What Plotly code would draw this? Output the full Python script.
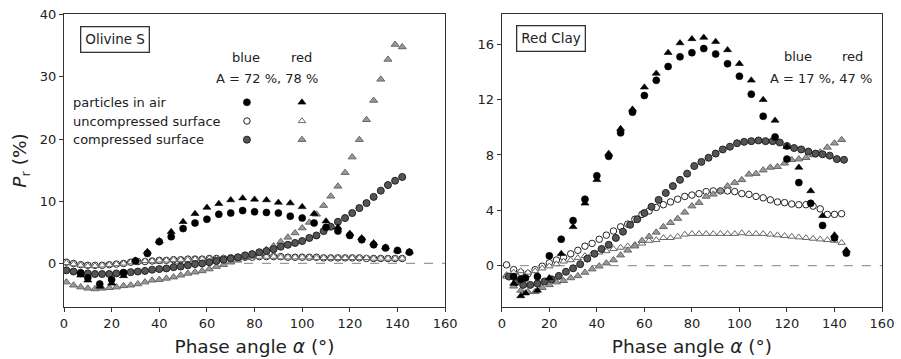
import plotly.graph_objects as go

# ---------------- data: left panel (Olivine S) ----------------
L_air_x = [7, 10, 15, 20, 25, 30, 35, 40, 45, 50, 55, 60, 65, 70, 75, 80, 85, 90, 95, 100,
           105, 110, 115, 120, 125, 130, 135, 140, 145]
L_air_blue = [-1.6, -2.3, -3.3, -2.6, -1.5, 0.4, 1.6, 3.5, 4.3, 5.6, 6.5, 7.1, 7.9, 8.1, 8.5, 8.3,
              8.2, 8.1, 7.6, 7.3, 6.5, 5.8, 5.2, 4.5, 3.8, 3.0, 2.5, 2.1, 1.8]
L_air_red = [-1.9, -2.7, -3.7, -3.2, -2.0, 0.5, 1.9, 3.6, 5.1, 6.7, 8.0, 9.0, 9.6, 10.2, 10.5, 10.3,
             10.2, 9.8, 9.7, 9.1, 8.0, 6.8, 5.8, 4.8, 4.1, 3.3, 2.6, 2.1, 1.9]

L_surf_x = [1, 4, 7, 10, 13, 16, 19, 22, 25, 28, 31, 34, 37, 40, 43, 46, 49, 52, 55, 58, 61, 64,
            67, 70, 73, 76, 79, 82, 85, 88, 91, 94, 97, 100, 103, 106, 109, 112, 115, 118, 121,
            124, 127, 130, 133, 136, 139, 142]
L_unc_blue = [0.2, 0.0, -0.2, -0.3, -0.3, -0.3, -0.2, -0.1, 0.0, 0.2, 0.3, 0.3, 0.4, 0.5, 0.5, 0.6,
              0.6, 0.7, 0.7, 0.7, 0.8, 0.8, 0.8, 0.9, 0.9, 1.0, 1.0, 1.1, 1.1, 1.1, 1.1, 1.0, 1.0,
              1.0, 1.0, 1.0, 0.9, 0.9, 0.9, 0.9, 0.9, 0.9, 0.8, 0.8, 0.8, 0.8, 0.8, 0.8]
L_unc_red = [0.1, -0.1, -0.3, -0.4, -0.4, -0.3, -0.2, -0.1, 0.0, 0.2, 0.3, 0.4, 0.4, 0.5, 0.5, 0.6,
             0.6, 0.6, 0.7, 0.7, 0.8, 0.8, 0.9, 0.9, 1.0, 1.0, 1.1, 1.1, 1.1, 1.1, 1.0, 1.0, 1.0,
             1.0, 1.0, 0.9, 0.9, 0.9, 0.9, 0.9, 0.9, 0.9, 0.9, 0.8, 0.8, 0.8, 0.8, 0.8]
L_cmp_blue = [-1.1, -1.3, -1.5, -1.6, -1.7, -1.7, -1.7, -1.6, -1.5, -1.4, -1.3, -1.2, -1.0, -0.9,
              -0.8, -0.6, -0.5, -0.3, -0.1, 0.0, 0.2, 0.4, 0.6, 0.8, 1.0, 1.3, 1.5, 1.8, 2.0, 2.3,
              2.7, 3.0, 3.3, 3.6, 4.1, 4.5, 5.2, 5.9, 6.7, 7.3, 8.1, 8.9, 9.7, 10.7, 11.7, 12.6,
              13.3, 13.9]
L_cmp_red = [-3.0, -3.5, -3.8, -4.0, -4.1, -4.0, -3.9, -3.8, -3.6, -3.5, -3.3, -3.0, -2.7, -2.6,
             -2.4, -2.2, -1.9, -1.6, -1.4, -1.2, -0.9, -0.5, -0.2, 0.2, 0.5, 0.9, 1.2, 1.7, 2.2,
             2.8, 3.5, 4.2, 4.9, 5.7, 6.6, 7.9, 9.3, 10.8, 12.4, 14.6, 17.1, 19.9, 23.1, 26.2,
             29.6, 32.8, 35.2, 34.8]

# ---------------- data: right panel (Red Clay) ----------------
R_air_x = [5, 8, 10, 15, 20, 25, 30, 35, 40, 45, 50, 55, 60, 65, 70, 75, 80, 85, 90, 95, 100,
           105, 110, 115, 120, 125, 130, 135, 140, 145]
R_air_blue = [-0.8, -1.0, -0.9, -0.8, 0.7, 1.9, 3.25, 4.8, 6.5, 7.9, 9.6, 11.1, 12.3, 13.4, 14.4,
              15.1, 15.4, 15.7, 15.3, 14.6, 13.7, 12.4, 10.8, 9.3, 7.7, 6.0, 4.5, 2.9, 2.0, 0.9]
R_air_red = [-1.3, -2.2, -2.0, -1.8, -0.9, 0.85, 2.8, 4.5, 6.2, 8.1, 9.9, 11.3, 12.9, 13.9, 15.4,
             16.1, 16.4, 16.5, 16.2, 15.6, 14.6, 13.4, 12.0, 10.5, 8.6, 7.1, 5.4, 3.6, 2.2, 1.1]

R_surf_x = [2, 5, 8, 11, 14, 17, 20, 23, 26, 29, 32, 35, 38, 41, 44, 47, 50, 53, 56, 59, 62, 65,
            68, 71, 74, 77, 80, 83, 86, 89, 92, 95, 98, 101, 104, 107, 110, 113, 116, 119, 122,
            125, 128, 131, 134, 137, 140, 143]
R_unc_blue = [0.05, -0.3, -0.5, -0.6, -0.3, -0.05, 0.2, 0.4, 0.6, 0.85, 1.1, 1.4, 1.6, 1.9, 2.2,
              2.5, 2.8, 3.0, 3.35, 3.7, 3.95, 4.2, 4.4, 4.6, 4.8, 5.0, 5.1, 5.2, 5.35, 5.4, 5.4,
              5.4, 5.35, 5.2, 5.15, 5.0, 4.9, 4.75, 4.6, 4.55, 4.45, 4.4, 4.4, 4.3, 4.1, 3.7, 3.7,
              3.75]
R_unc_red = [-0.8, -0.5, -0.4, -0.5, -0.4, -0.2, -0.05, 0.1, 0.3, 0.4, 0.55, 0.7, 0.85, 0.95, 1.05,
             1.2, 1.3, 1.4, 1.5, 1.6, 1.8, 1.85, 2.0, 2.0, 2.1, 2.25, 2.3, 2.3, 2.3, 2.3, 2.3, 2.3,
             2.3, 2.35, 2.3, 2.3, 2.3, 2.25, 2.2, 2.15, 2.1, 2.05, 2.0, 1.95, 1.9, 1.85, 1.8, 1.65]
R_cmp_x = [3, 6, 9, 12, 15, 18, 21, 24, 27, 30, 33, 36, 39, 42, 45, 48, 51, 54, 57, 60, 63, 66,
           69, 72, 75, 78, 81, 84, 87, 90, 93, 96, 99, 102, 105, 108, 111, 114, 117, 120, 123,
           126, 129, 132, 135, 138, 141, 144]
R_cmp_blue = [-0.8, -1.2, -1.4, -1.4, -1.3, -1.15, -1.0, -0.75, -0.45, -0.2, 0.1, 0.5, 0.85, 1.2,
              1.5, 2.0, 2.45, 2.95, 3.35, 3.8, 4.25, 4.75, 5.25, 5.75, 6.2, 6.65, 7.2, 7.5, 7.8,
              8.1, 8.4, 8.6, 8.85, 8.95, 9.0, 9.05, 9.0, 9.0, 8.9, 8.65, 8.5, 8.4, 8.25, 8.1,
              8.05, 7.95, 7.7, 7.65]
R_cmp_red = [-0.7, -1.5, -1.8, -1.9, -1.9, -1.6, -1.4, -1.2, -1.1, -0.9, -0.75, -0.5, -0.26, -0.05,
             0.17, 0.4, 0.75, 1.1, 1.4, 1.8, 2.1, 2.4, 2.8, 3.1, 3.4, 3.85, 4.3, 4.55, 5.0, 5.15,
             5.4, 5.75, 6.0, 6.2, 6.6, 6.65, 6.9, 7.1, 7.15, 7.4, 7.65, 7.7, 7.8, 8.0, 8.2, 8.55,
             8.85, 9.1]

X_TICKS = [0, 20, 40, 60, 80, 100, 120, 140, 160]
L_Y_TICKS = [0, 10, 20, 30, 40]
R_Y_TICKS = [0, 4, 8, 12, 16]

# ---------------- styles ----------------
FONT = "DejaVu Sans"
TXT = "#222222"
AX = "#333333"
S = {
    "air_blue": dict(symbol="circle", size=7, color="#000000", line=dict(width=0.6, color="#000000")),
    "air_red": dict(symbol="triangle-up", size=7, color="#000000", line=dict(width=0.6, color="#000000")),
    "unc_blue": dict(symbol="circle", size=6.5, color="#ffffff", line=dict(width=1.0, color="#222222")),
    "unc_red": dict(symbol="triangle-up", size=6.5, color="#ffffff", line=dict(width=1.0, color="#666666")),
    "cmp_blue": dict(symbol="circle", size=7, color="#555555", line=dict(width=1.0, color="#222222")),
    "cmp_red": dict(symbol="triangle-up", size=7, color="#999999", line=dict(width=1.0, color="#666666")),
}

fig = go.Figure()

def add(x, y, style, xa, ya):
    fig.add_trace(go.Scatter(x=x, y=y, mode="markers", marker=S[style], xaxis=xa, yaxis=ya,
                             showlegend=False, hoverinfo="skip"))

# left
add(L_surf_x, L_unc_blue, "unc_blue", "x", "y")
add(L_surf_x, L_unc_red, "unc_red", "x", "y")
add(L_surf_x, L_cmp_red, "cmp_red", "x", "y")
add(L_surf_x, L_cmp_blue, "cmp_blue", "x", "y")
add(L_air_x, L_air_red, "air_red", "x", "y")
add(L_air_x, L_air_blue, "air_blue", "x", "y")
# right
add(R_surf_x, R_unc_blue, "unc_blue", "x2", "y2")
add(R_surf_x, R_unc_red, "unc_red", "x2", "y2")
add(R_surf_x, R_cmp_red, "cmp_red", "x2", "y2")
add(R_cmp_x, R_cmp_blue, "cmp_blue", "x2", "y2")
add(R_air_x, R_air_red, "air_red", "x2", "y2")
add(R_air_x, R_air_blue, "air_blue", "x2", "y2")

# legend key glyphs (layout positions in left-panel data units)
LEG_COL_X = {"blue": 76.8, "red": 99.9}
LEG_ROW_Y = [25.9, 22.9, 19.9]
LEG_ROWS = [("particles in air", "air"), ("uncompressed surface", "unc"), ("compressed surface", "cmp")]
for (label, key), ry in zip(LEG_ROWS, LEG_ROW_Y):
    for col in ("blue", "red"):
        add([LEG_COL_X[col]], [ry], f"{key}_{col}", "x", "y")

axis_common = dict(showline=True, linecolor=AX, linewidth=1.3, mirror=True, ticks="outside",
                   ticklen=4, tickwidth=1.2, tickcolor=AX, showgrid=False, zeroline=False,
                   automargin=False, tickfont=dict(family=FONT, size=13, color=TXT))

xtitle = dict(text="Phase angle <i>α</i> (°)", font=dict(family=FONT, size=18.5, color=TXT), standoff=10)

fig.update_layout(
    width=901, height=359,
    margin=dict(l=63.5, r=18.7, t=13.5, b=52),
    paper_bgcolor="white", plot_bgcolor="white",
    xaxis=dict(domain=[0, 0.4659], range=[0, 160], tickvals=X_TICKS, anchor="y", title=xtitle, **axis_common),
    yaxis=dict(domain=[0, 1], range=[-7, 40.1], tickvals=L_Y_TICKS, anchor="x",
               title=dict(text="<i>P</i><sub>r</sub> (%)", font=dict(family=FONT, size=18.5, color=TXT), standoff=8),
               **axis_common),
    xaxis2=dict(domain=[0.5352, 1], range=[0, 160], tickvals=X_TICKS, anchor="y2", title=xtitle, **axis_common),
    yaxis2=dict(domain=[0, 1], range=[-3, 18.2], tickvals=R_Y_TICKS, anchor="x2", **axis_common),
    font=dict(family=FONT, color=TXT),
)

for xr, yr in (("x", "y"), ("x2", "y2")):
    fig.add_shape(type="line", xref=f"{xr} domain", yref=yr, x0=0, x1=1, y0=0, y1=0,
                  line=dict(color="#999999", width=1.2, dash="dash"), layer="below")

def ann(text, x, y, xref, yref, size=13, xanchor="center", box=False):
    d = dict(text=text, x=x, y=y, xref=xref, yref=yref, showarrow=False, xanchor=xanchor,
             yanchor="middle", font=dict(family=FONT, size=size, color=TXT))
    if box:
        d.update(bordercolor=AX, borderwidth=1.3, borderpad=4, bgcolor="white")
    fig.add_annotation(**d)

# left annotations
ann("Olivine S", 21.2, 36.0, "x", "y", size=13.5, box=True)
ann("blue", 76.4, 33.1, "x", "y")
ann("red", 99.9, 33.1, "x", "y")
ann("A = 72 %, 78 %", 85.2, 29.7, "x", "y")
for (label, key), ry in zip(LEG_ROWS, LEG_ROW_Y):
    ann(label, 3.1, ry, "x", "y", xanchor="left")

# right annotations
ann("Red Clay", 20.7, 16.4, "x2", "y2", size=13.5, box=True)
ann("blue", 124.5, 15.1, "x2", "y2")
ann("red", 147.7, 15.1, "x2", "y2")
ann("A = 17 %, 47 %", 134.2, 13.5, "x2", "y2")

fig.write_html("out.html")
